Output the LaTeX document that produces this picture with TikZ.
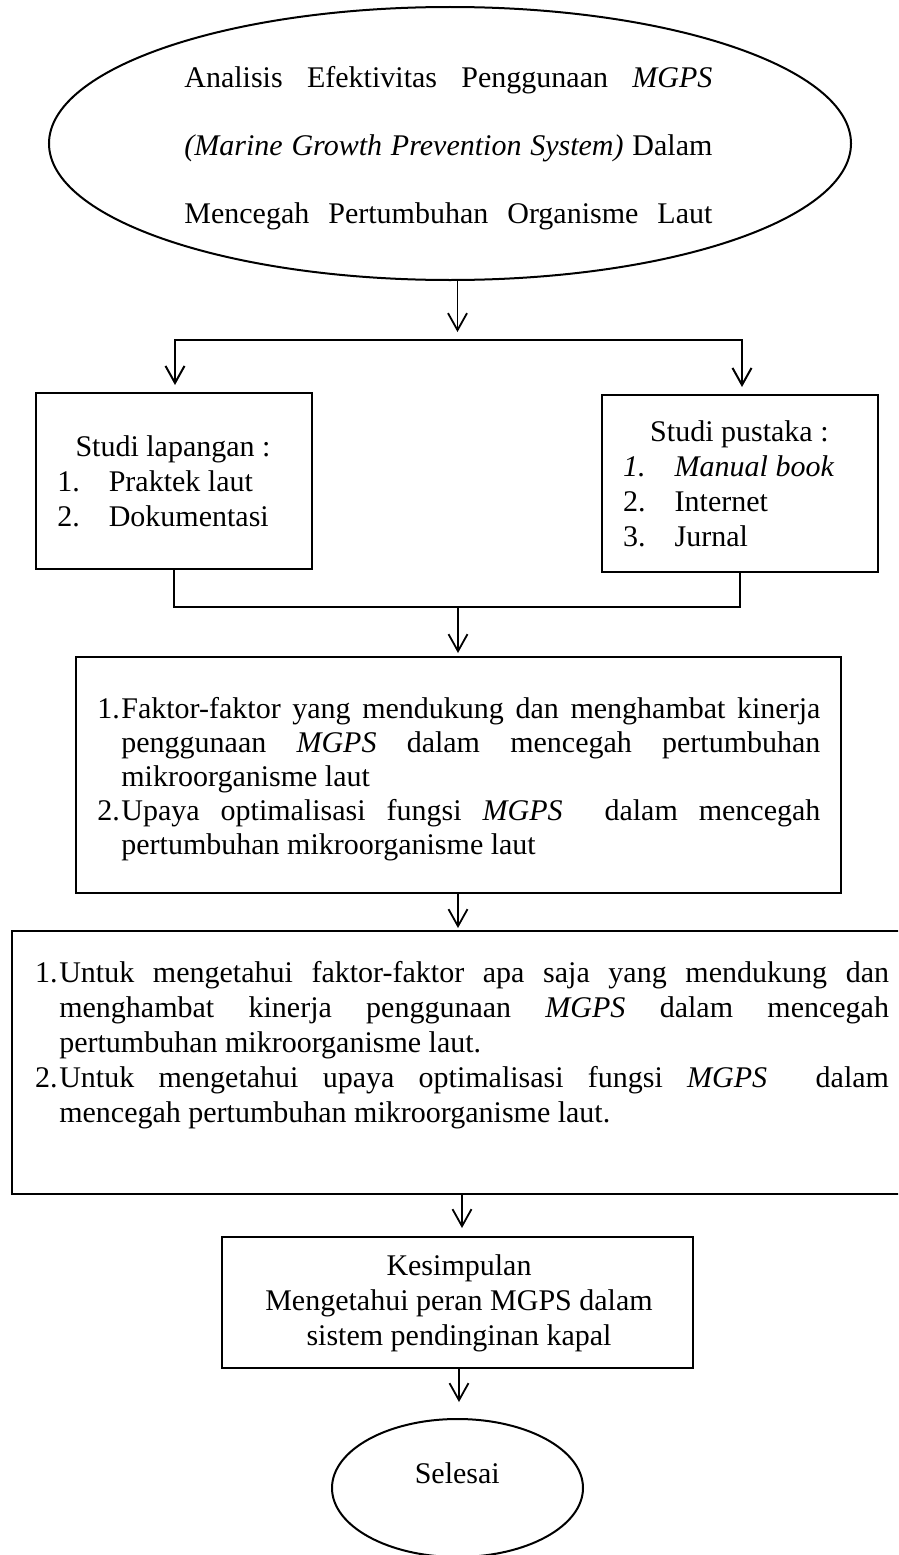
\documentclass[tikz,border=0pt]{standalone}
\usepackage{fontspec}
\setmainfont{Liberation Serif}
\usetikzlibrary{arrows.meta,shapes.geometric}
\newcommand\ystrut{\rule{0pt}{22pt}}
\newcommand\jsetup{\tolerance=9999 \hbadness=10000 \hyphenpenalty=10000 \exhyphenpenalty=10000 \parindent=0pt }
\begin{document}
\begin{tikzpicture}[x=1pt,y=-1pt,
  every node/.style={inner sep=0pt, outer sep=0pt},
  txt/.style={font=\fontsize{30}{34.5}\selectfont},
  box/.style={draw, line width=2pt, rectangle},
  oval/.style={draw, line width=2pt, ellipse},
  link/.style={line width=2pt},
  tipv/.tip={Straight Barb[length=17pt,width=19pt]},
  arr/.style={line width=1.8pt, -tipv},
]
\useasboundingbox (0,0) rectangle (898,1555);
\clip (0,0) rectangle (898,1555);

% Start ellipse
\node[oval, minimum width=802pt, minimum height=273pt] (start) at (450,143.5) {};
\node[font=\fontsize{30}{68.2}\selectfont, text width=528pt, align=justify, anchor=north west] (title) at (184.4,87.5-22)
  {\jsetup\parfillskip=0pt\noindent\ystrut Analisis Efektivitas Penggunaan \textit{MGPS}\linebreak
   \textit{(Marine Growth Prevention System)} Dalam\linebreak
   Mencegah Pertumbuhan Organisme Laut\par};

% Split
\coordinate (j1) at (457.5,332);
\coordinate (sl) at (175,340);
\coordinate (sr) at (742,340);
\coordinate (tl) at (175,385);
\coordinate (tr) at (742,387);
\draw[arr] (start.south -| j1) -- (j1);
\draw[link, tipv-tipv] (tl) -- (sl) -- (sr) -- (tr);

% Left box
\node[box, minimum width=276.3pt, minimum height=176pt] (left) at (173.85,481) {};
\node[txt, anchor=base] (lh) at (173,456) {Studi lapangan :};
\node[txt, anchor=base west] (l1) at (57.3,491) {\makebox[51.5pt][l]{1.}Praktek laut};
\node[txt, anchor=base west] (l2) at (57.3,526) {\makebox[51.5pt][l]{2.}Dokumentasi};

% Right box
\node[box, minimum width=276pt, minimum height=177pt] (right) at (740,483.5) {};
\node[txt, anchor=base] (rh) at (739.4,441.7) {Studi pustaka :};
\node[txt, anchor=base west] (r1) at (623,476) {\makebox[51.7pt][l]{\textit{1.}}\textit{Manual book}};
\node[txt, anchor=base west] (r2) at (623,511) {\makebox[51.7pt][l]{2.}Internet};
\node[txt, anchor=base west] (r3) at (623,546) {\makebox[51.7pt][l]{3.}Jurnal};

% Merge
\coordinate (m) at (458,607);
\coordinate (a3) at (458,653);
\draw[link] (left.south) -- (left.south |- m) -- (right.south |- m) -- (right.south);
\draw[arr] (m) -- (a3);

% Box 3
\node[box, minimum width=765pt, minimum height=236pt] (b3) at (458.5,775) {};
\node[font=\fontsize{30}{34}\selectfont, text width=723pt, align=justify, anchor=north west] (b3t) at (97.4,718-22)
  {\jsetup
   \hangindent=24pt\hangafter=1\noindent\ystrut\makebox[24pt][l]{1.}Faktor-faktor yang mendukung dan menghambat kinerja\linebreak
   penggunaan \textit{MGPS} dalam mencegah pertumbuhan\linebreak
   mikroorganisme laut\par
   \hangindent=24pt\hangafter=1\noindent\makebox[24pt][l]{2.}Upaya optimalisasi fungsi \textit{MGPS}\ \ dalam mencegah\linebreak
   pertumbuhan mikroorganisme laut\par};

\coordinate (a4) at (458,928);
\draw[arr] (b3.south -| a4) -- (a4);

% Box 4
\node[box, minimum width=900pt, minimum height=263pt] (b4) at (461.85,1062.5) {};
\node[font=\fontsize{30}{35}\selectfont, text width=854pt, align=justify, anchor=north west] (b4t) at (35,982-22)
  {\jsetup
   \hangindent=24.3pt\hangafter=1\noindent\ystrut\makebox[24.3pt][l]{1.}Untuk mengetahui faktor-faktor apa saja yang mendukung dan\linebreak
   menghambat kinerja penggunaan \textit{MGPS} dalam mencegah\linebreak
   pertumbuhan mikroorganisme laut.\par
   \hangindent=24.3pt\hangafter=1\noindent\makebox[24.3pt][l]{2.}Untuk mengetahui upaya optimalisasi fungsi \textit{MGPS}\ \ dalam\linebreak
   mencegah pertumbuhan mikroorganisme laut.\par};

\coordinate (a5) at (462,1228);
\draw[arr] (b4.south -| a5) -- (a5);

% Box 5
\node[box, minimum width=471pt, minimum height=131pt] (b5) at (457.5,1302.5) {};
\node[font=\fontsize{30}{35}\selectfont, align=center, anchor=north] (b5t) at (459,1275-22)
  {\ystrut Kesimpulan\\ Mengetahui peran MGPS dalam\\ sistem pendinginan kapal};

\coordinate (a6) at (459,1402);
\draw[arr] (b5.south -| a6) -- (a6);

% End ellipse
\node[oval, minimum width=251pt, minimum height=138pt] (end) at (457.5,1488) {};
\node[txt, anchor=base] (endt) at (457.3,1483.3) {Selesai};
\end{tikzpicture}
\end{document}
